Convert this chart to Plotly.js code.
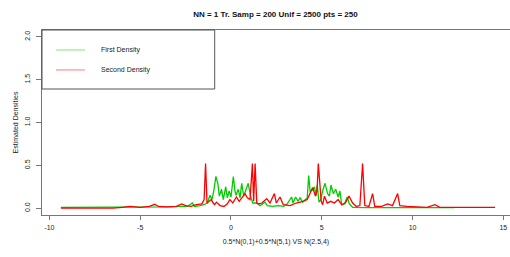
<!DOCTYPE html>
<html>
<head>
<meta charset="utf-8">
<script src="https://cdn.plot.ly/plotly-3.0.1.min.js"></script>
<style>html,body{margin:0;padding:0;background:#fff;}#chart{width:510px;height:257px;}</style>
</head>
<body>
<div id="chart"></div>
<script>
var firstX = [-9.37,-8.5,-7.5,-6.5,-5.5,-4.5,-3.5,-2.8,-2.4,-2.13,-2.0,-1.7,-1.5,-1.3,-1.16,-1.05,-0.95,-0.83,-0.72,-0.64,-0.52,-0.42,-0.29,-0.2,-0.1,0.0,0.13,0.22,0.28,0.4,0.5,0.59,0.7,0.8,0.95,1.08,1.2,1.41,1.6,1.87,2.0,2.3,2.6,2.9,3.1,3.34,3.42,3.56,3.7,3.8,3.95,4.1,4.2,4.28,4.36,4.48,4.6,4.68,4.75,4.85,4.95,5.05,5.18,5.32,5.42,5.51,5.64,5.77,5.9,6.0,6.1,6.25,6.4,6.52,6.7,7.5,9.0,10.5,12.3];
var firstY = [0.01,0.01,0.01,0.01,0.01,0.015,0.015,0.02,0.02,0.06,0.02,0.03,0.04,0.06,0.15,0.1,0.2,0.37,0.28,0.14,0.22,0.1,0.25,0.12,0.2,0.13,0.37,0.2,0.15,0.22,0.12,0.29,0.14,0.2,0.29,0.14,0.06,0.06,0.03,0.07,0.03,0.02,0.03,0.02,0.05,0.13,0.06,0.13,0.08,0.12,0.07,0.1,0.12,0.38,0.2,0.21,0.25,0.14,0.27,0.07,0.1,0.2,0.29,0.17,0.14,0.27,0.17,0.22,0.13,0.2,0.04,0.05,0.13,0.05,0.01,0.005,0.005,0.005,0.005];
var secondX = [-9.37,-8.0,-6.5,-6.0,-5.56,-5.0,-4.5,-4.19,-4.0,-3.5,-3.0,-2.72,-2.5,-2.2,-1.9,-1.6,-1.48,-1.40,-1.32,-1.2,-1.08,-0.98,-0.9,-0.8,-0.7,-0.6,-0.39,-0.2,-0.06,0.1,0.3,0.45,0.6,0.77,0.9,1.05,1.18,1.25,1.33,1.42,1.5,1.7,1.97,2.15,2.39,2.5,2.7,2.88,3.25,3.6,3.97,4.2,4.35,4.5,4.65,4.74,4.81,4.9,4.97,5.05,5.15,5.3,5.5,5.7,5.9,6.1,6.3,6.5,6.7,6.9,7.1,7.25,7.37,7.6,7.8,7.92,8.3,8.63,8.9,9.18,9.3,9.7,10.3,10.8,11.24,11.5,12.5,13.5,14.55];
var secondY = [0.0,0.0,0.0,0.01,0.02,0.01,0.02,0.045,0.02,0.015,0.02,0.05,0.03,0.02,0.04,0.05,0.1,0.52,0.06,0.08,0.1,0.06,0.04,0.07,0.05,0.03,0.02,0.05,0.1,0.06,0.13,0.08,0.12,0.17,0.12,0.1,0.52,0.08,0.52,0.06,0.05,0.06,0.11,0.06,0.17,0.06,0.13,0.04,0.03,0.06,0.08,0.1,0.17,0.24,0.14,0.2,0.52,0.25,0.08,0.04,0.14,0.06,0.08,0.06,0.1,0.04,0.06,0.14,0.06,0.02,0.03,0.52,0.03,0.02,0.17,0.02,0.02,0.05,0.03,0.17,0.03,0.02,0.015,0.01,0.04,0.01,0.01,0.01,0.01];
var xTicks = [-10,-5,0,5,10,15];
var yTicks = [0.0,0.5,1.0,1.5,2.0];
var yTickText = ["0.0","0.5","1.0","1.5","2.0"];
var legendNames = ["First Density","Second Density"];

var green = "#00cd00", red = "#ff0000";
var traces = [
  {x: firstX, y: firstY, type: "scatter", mode: "lines", name: legendNames[0], line: {color: green, width: 1.3}, showlegend: false},
  {x: secondX, y: secondY, type: "scatter", mode: "lines", name: legendNames[1], line: {color: red, width: 1.3}, showlegend: false}
];
var fnt = {family: "Liberation Sans, Arial, sans-serif", size: 7, color: "#222"};
var layout = {
  width: 510, height: 257,
  margin: {l: 42, r: 0, t: 30, b: 42},
  paper_bgcolor: "#fff", plot_bgcolor: "#fff",
  font: fnt,
  title: {text: "<b>NN = 1 Tr. Samp = 200 Unif = 2500 pts = 250</b>", font: {family: "Liberation Sans, Arial, sans-serif", size: 8, color: "#111"}, x: 0.54, xanchor: "center", y: 0.945, yanchor: "middle"},
  xaxis: {range: [-10.41, 15.37], tickvals: xTicks, ticktext: xTicks.map(String), showgrid: false, zeroline: false, showline: true, mirror: true, linecolor: "#777", linewidth: 1, ticks: "outside", ticklen: 4, tickcolor: "#777", tickfont: fnt, ticklabelstandoff: 2,
    title: {text: "0.5*N(0,1)+0.5*N(5,1) VS N(2.5,4)", font: fnt, standoff: 8}},
  yaxis: {range: [-0.08, 2.08], tickvals: yTicks, ticktext: yTickText, tickangle: -90, showgrid: false, zeroline: false, showline: true, linecolor: "#777", linewidth: 1, ticks: "outside", ticklen: 5, tickcolor: "#777", tickfont: fnt, ticklabelstandoff: 3,
    title: {text: "Estimated Densities", font: fnt, standoff: 4}},
  shapes: [
    {type: "rect", xref: "paper", yref: "paper", x0: 0, x1: 0.369, y0: 0.681, y1: 1, line: {color: "#555", width: 1}},
    {type: "line", xref: "paper", yref: "paper", x0: 0.0299, x1: 0.0917, y0: 0.892, y1: 0.892, line: {color: "#7ee87e", width: 1}},
    {type: "line", xref: "paper", yref: "paper", x0: 0.0299, x1: 0.0917, y0: 0.784, y1: 0.784, line: {color: "#ff7a7a", width: 1}}
  ],
  annotations: [
    {xref: "paper", yref: "paper", x: 0.1215, y: 0.892, xanchor: "left", yanchor: "middle", text: legendNames[0], showarrow: false, font: fnt},
    {xref: "paper", yref: "paper", x: 0.1215, y: 0.784, xanchor: "left", yanchor: "middle", text: legendNames[1], showarrow: false, font: fnt}
  ]
};
Plotly.newPlot("chart", traces, layout, {displayModeBar: false, staticPlot: true});
</script>
</body>
</html>
